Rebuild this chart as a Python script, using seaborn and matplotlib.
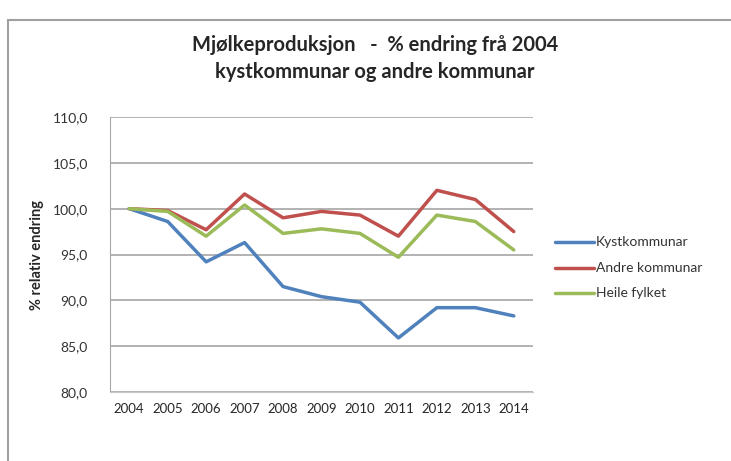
import pandas as pd
import matplotlib.pyplot as plt
import seaborn as sns
from matplotlib.patches import Rectangle
from matplotlib.ticker import FuncFormatter

# --------------------------------------------------
# DATA
# --------------------------------------------------

years = [2004, 2005, 2006, 2007, 2008, 2009, 2010, 2011, 2012, 2013, 2014]
kyst = [100.0, 98.6, 94.2, 96.3, 91.5, 90.4, 89.8, 85.9, 89.2, 89.2, 88.3]
andre = [100.0, 99.8, 97.7, 101.6, 99.0, 99.7, 99.3, 97.0, 102.0, 101.0, 97.5]
heile = [100.0, 99.7, 97.0, 100.4, 97.3, 97.8, 97.3, 94.7, 99.3, 98.6, 95.5]

series_names = ["Kystkommunar", "Andre kommunar", "Heile fylket"]
colors = ["#4F81BD", "#C0504D", "#9BBB59"]

df = pd.DataFrame({
    "idx": list(range(len(years))) * 3,
    "value": kyst + andre + heile,
    "serie": [s for s in series_names for _ in years],
})

# --------------------------------------------------
# PLOT
# --------------------------------------------------

sns.set_style("white")
plt.rcParams["font.family"] = ["Lato", "DejaVu Sans"]

fig = plt.figure(figsize=(7.31, 4.61), dpi=100)
ax = fig.add_axes([110 / 731, 1 - 392 / 461, 423 / 731, 275 / 461])

# chart area frame
fig.patches.append(Rectangle((8 / 731, -0.1), 1.0, 1 - 20 / 461 + 0.1,
                             transform=fig.transFigure, fill=False,
                             edgecolor="#A0A0A0", linewidth=1.5))

sns.lineplot(data=df, x="idx", y="value", hue="serie",
             palette=dict(zip(series_names, colors)), linewidth=2.5,
             ax=ax, legend=False)

ax.set_xlim(-0.5, len(years) - 0.5)
ax.set_ylim(80, 110)
ax.set_yticks([80, 85, 90, 95, 100, 105, 110])
ax.yaxis.set_major_formatter(FuncFormatter(lambda v, p: f"{v:.1f}".replace(".", ",")))
ax.set_xticks(range(len(years)))
ax.set_xticklabels([str(y) for y in years])
ax.tick_params(axis="x", labelsize=9.5, pad=8, length=0)
ax.tick_params(axis="y", labelsize=10, pad=16, length=0, labelcolor="#333333")
ax.grid(axis="y", color="#A6A6A6", linewidth=1.2)
ax.set_axisbelow(True)
for side in ["top", "right"]:
    ax.spines[side].set_visible(False)
ax.spines["left"].set_color("#A6A6A6")
ax.spines["bottom"].set_color("#C8C8C8")
ax.set_xlabel("")
ax.set_ylabel("% relativ endring", fontsize=10.5, fontweight="bold", labelpad=6)

fig.text(375 / 731, 1 - 45 / 461, "Mjølkeproduksjon   -  % endring frå 2004",
         ha="center", va="center", fontsize=14.5, fontweight="bold")
fig.text(375 / 731, 1 - 72 / 461, "kystkommunar og andre kommunar",
         ha="center", va="center", fontsize=14.5, fontweight="bold")

# legend
for i, (name, c) in enumerate(zip(series_names, colors)):
    yy = 1 - (242 + i * 25.5) / 461
    fig.add_artist(plt.Line2D([555 / 731, 594 / 731], [yy, yy],
                              color=c, linewidth=2.5, transform=fig.transFigure))
    fig.text(596 / 731, yy, name, ha="left", va="center", fontsize=10,
             color="#333333")

fig.savefig("out.png", dpi=100)
